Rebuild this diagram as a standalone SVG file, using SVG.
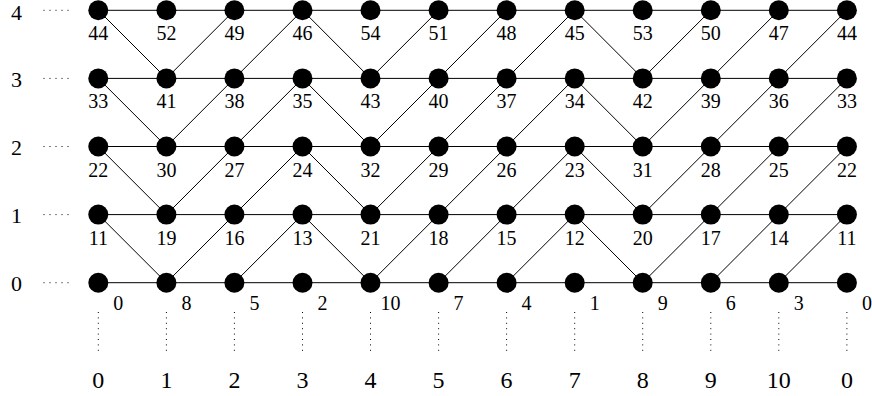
<svg xmlns="http://www.w3.org/2000/svg" width="872" height="396" viewBox="0 0 872 396">
<style>
.bg{fill:#fff}
.e{stroke:#000;stroke-width:1;fill:none}
.dot{stroke:#000;stroke-width:1;fill:none;stroke-dasharray:1 5}
.vdot{stroke:#000;stroke-width:1;fill:none;stroke-dasharray:1 4.4}
circle{fill:#000}
text{font-family:"Liberation Serif","DejaVu Serif",serif;fill:#000;text-anchor:middle}
.nl{font-size:20px}
.bl{font-size:24px}
.rl{font-size:22px}
</style>
<rect class="bg" x="0" y="0" width="872" height="396"/>
<g id="guides">
<line class="dot" x1="43.5" y1="10.3" x2="70" y2="10.3"/>
<line class="dot" x1="43.5" y1="78.4" x2="70" y2="78.4"/>
<line class="dot" x1="43.5" y1="146.5" x2="70" y2="146.5"/>
<line class="dot" x1="43.5" y1="214.6" x2="70" y2="214.6"/>
<line class="dot" x1="43.5" y1="282.7" x2="70" y2="282.7"/>
<line class="vdot" x1="98.3" y1="312" x2="98.3" y2="351"/>
<line class="vdot" x1="166.4" y1="312" x2="166.4" y2="351"/>
<line class="vdot" x1="234.4" y1="312" x2="234.4" y2="351"/>
<line class="vdot" x1="302.5" y1="312" x2="302.5" y2="351"/>
<line class="vdot" x1="370.5" y1="312" x2="370.5" y2="351"/>
<line class="vdot" x1="438.6" y1="312" x2="438.6" y2="351"/>
<line class="vdot" x1="506.6" y1="312" x2="506.6" y2="351"/>
<line class="vdot" x1="574.7" y1="312" x2="574.7" y2="351"/>
<line class="vdot" x1="642.7" y1="312" x2="642.7" y2="351"/>
<line class="vdot" x1="710.8" y1="312" x2="710.8" y2="351"/>
<line class="vdot" x1="778.8" y1="312" x2="778.8" y2="351"/>
<line class="vdot" x1="846.9" y1="312" x2="846.9" y2="351"/>
</g>
<g id="row-labels" class="rl">
<text x="16.5" y="20">4</text>
<text x="16.5" y="86.5">3</text>
<text x="16.5" y="154.6">2</text>
<text x="16.5" y="222.7">1</text>
<text x="16.5" y="290.8">0</text>
</g>
<g id="col-labels" class="bl">
<text x="98.3" y="388">0</text>
<text x="166.4" y="388">1</text>
<text x="234.4" y="388">2</text>
<text x="302.5" y="388">3</text>
<text x="370.5" y="388">4</text>
<text x="438.6" y="388">5</text>
<text x="506.6" y="388">6</text>
<text x="574.7" y="388">7</text>
<text x="642.7" y="388">8</text>
<text x="710.8" y="388">9</text>
<text x="778.8" y="388">10</text>
<text x="846.9" y="388">0</text>
</g>
<g id="connectors" class="e">
<path d="M98.3 10.3H846.9M98.3 78.4H846.9M98.3 146.5H846.9M98.3 214.6H846.9M98.3 282.7H846.9"/>
<path d="M98.3 10.3L166.4 78.4M98.3 78.4L166.4 146.5M98.3 146.5L166.4 214.6M98.3 214.6L166.4 282.7"/>
<path d="M302.5 10.3L370.5 78.4M302.5 78.4L370.5 146.5M302.5 146.5L370.5 214.6M302.5 214.6L370.5 282.7"/>
<path d="M574.7 10.3L642.7 78.4M574.7 78.4L642.7 146.5M574.7 146.5L642.7 214.6M574.7 214.6L642.7 282.7"/>
<path d="M166.4 282.7L234.4 214.6M166.4 214.6L234.4 146.5M166.4 146.5L234.4 78.4M166.4 78.4L234.4 10.3"/>
<path d="M234.4 282.7L302.5 214.6M234.4 214.6L302.5 146.5M234.4 146.5L302.5 78.4M234.4 78.4L302.5 10.3"/>
<path d="M370.5 282.7L438.6 214.6M370.5 214.6L438.6 146.5M370.5 146.5L438.6 78.4M370.5 78.4L438.6 10.3"/>
<path d="M438.6 282.7L506.6 214.6M438.6 214.6L506.6 146.5M438.6 146.5L506.6 78.4M438.6 78.4L506.6 10.3"/>
<path d="M506.6 282.7L574.7 214.6M506.6 214.6L574.7 146.5M506.6 146.5L574.7 78.4M506.6 78.4L574.7 10.3"/>
<path d="M642.7 282.7L710.8 214.6M642.7 214.6L710.8 146.5M642.7 146.5L710.8 78.4M642.7 78.4L710.8 10.3"/>
<path d="M710.8 282.7L778.8 214.6M710.8 214.6L778.8 146.5M710.8 146.5L778.8 78.4M710.8 78.4L778.8 10.3"/>
<path d="M778.8 282.7L846.9 214.6M778.8 214.6L846.9 146.5M778.8 146.5L846.9 78.4M778.8 78.4L846.9 10.3"/>
</g>
<g id="nodes" class="nl">
<g id="n4-0"><circle cx="98.3" cy="10.3" r="10"/><text x="98.3" y="40.3">44</text></g>
<g id="n4-1"><circle cx="166.4" cy="10.3" r="10"/><text x="166.4" y="40.3">52</text></g>
<g id="n4-2"><circle cx="234.4" cy="10.3" r="10"/><text x="234.4" y="40.3">49</text></g>
<g id="n4-3"><circle cx="302.5" cy="10.3" r="10"/><text x="302.5" y="40.3">46</text></g>
<g id="n4-4"><circle cx="370.5" cy="10.3" r="10"/><text x="370.5" y="40.3">54</text></g>
<g id="n4-5"><circle cx="438.6" cy="10.3" r="10"/><text x="438.6" y="40.3">51</text></g>
<g id="n4-6"><circle cx="506.6" cy="10.3" r="10"/><text x="506.6" y="40.3">48</text></g>
<g id="n4-7"><circle cx="574.7" cy="10.3" r="10"/><text x="574.7" y="40.3">45</text></g>
<g id="n4-8"><circle cx="642.7" cy="10.3" r="10"/><text x="642.7" y="40.3">53</text></g>
<g id="n4-9"><circle cx="710.8" cy="10.3" r="10"/><text x="710.8" y="40.3">50</text></g>
<g id="n4-10"><circle cx="778.8" cy="10.3" r="10"/><text x="778.8" y="40.3">47</text></g>
<g id="n4-11"><circle cx="846.9" cy="10.3" r="10"/><text x="846.9" y="40.3">44</text></g>
<g id="n3-0"><circle cx="98.3" cy="78.4" r="10"/><text x="98.3" y="108.4">33</text></g>
<g id="n3-1"><circle cx="166.4" cy="78.4" r="10"/><text x="166.4" y="108.4">41</text></g>
<g id="n3-2"><circle cx="234.4" cy="78.4" r="10"/><text x="234.4" y="108.4">38</text></g>
<g id="n3-3"><circle cx="302.5" cy="78.4" r="10"/><text x="302.5" y="108.4">35</text></g>
<g id="n3-4"><circle cx="370.5" cy="78.4" r="10"/><text x="370.5" y="108.4">43</text></g>
<g id="n3-5"><circle cx="438.6" cy="78.4" r="10"/><text x="438.6" y="108.4">40</text></g>
<g id="n3-6"><circle cx="506.6" cy="78.4" r="10"/><text x="506.6" y="108.4">37</text></g>
<g id="n3-7"><circle cx="574.7" cy="78.4" r="10"/><text x="574.7" y="108.4">34</text></g>
<g id="n3-8"><circle cx="642.7" cy="78.4" r="10"/><text x="642.7" y="108.4">42</text></g>
<g id="n3-9"><circle cx="710.8" cy="78.4" r="10"/><text x="710.8" y="108.4">39</text></g>
<g id="n3-10"><circle cx="778.8" cy="78.4" r="10"/><text x="778.8" y="108.4">36</text></g>
<g id="n3-11"><circle cx="846.9" cy="78.4" r="10"/><text x="846.9" y="108.4">33</text></g>
<g id="n2-0"><circle cx="98.3" cy="146.5" r="10"/><text x="98.3" y="176.5">22</text></g>
<g id="n2-1"><circle cx="166.4" cy="146.5" r="10"/><text x="166.4" y="176.5">30</text></g>
<g id="n2-2"><circle cx="234.4" cy="146.5" r="10"/><text x="234.4" y="176.5">27</text></g>
<g id="n2-3"><circle cx="302.5" cy="146.5" r="10"/><text x="302.5" y="176.5">24</text></g>
<g id="n2-4"><circle cx="370.5" cy="146.5" r="10"/><text x="370.5" y="176.5">32</text></g>
<g id="n2-5"><circle cx="438.6" cy="146.5" r="10"/><text x="438.6" y="176.5">29</text></g>
<g id="n2-6"><circle cx="506.6" cy="146.5" r="10"/><text x="506.6" y="176.5">26</text></g>
<g id="n2-7"><circle cx="574.7" cy="146.5" r="10"/><text x="574.7" y="176.5">23</text></g>
<g id="n2-8"><circle cx="642.7" cy="146.5" r="10"/><text x="642.7" y="176.5">31</text></g>
<g id="n2-9"><circle cx="710.8" cy="146.5" r="10"/><text x="710.8" y="176.5">28</text></g>
<g id="n2-10"><circle cx="778.8" cy="146.5" r="10"/><text x="778.8" y="176.5">25</text></g>
<g id="n2-11"><circle cx="846.9" cy="146.5" r="10"/><text x="846.9" y="176.5">22</text></g>
<g id="n1-0"><circle cx="98.3" cy="214.6" r="10"/><text x="98.3" y="244.6">11</text></g>
<g id="n1-1"><circle cx="166.4" cy="214.6" r="10"/><text x="166.4" y="244.6">19</text></g>
<g id="n1-2"><circle cx="234.4" cy="214.6" r="10"/><text x="234.4" y="244.6">16</text></g>
<g id="n1-3"><circle cx="302.5" cy="214.6" r="10"/><text x="302.5" y="244.6">13</text></g>
<g id="n1-4"><circle cx="370.5" cy="214.6" r="10"/><text x="370.5" y="244.6">21</text></g>
<g id="n1-5"><circle cx="438.6" cy="214.6" r="10"/><text x="438.6" y="244.6">18</text></g>
<g id="n1-6"><circle cx="506.6" cy="214.6" r="10"/><text x="506.6" y="244.6">15</text></g>
<g id="n1-7"><circle cx="574.7" cy="214.6" r="10"/><text x="574.7" y="244.6">12</text></g>
<g id="n1-8"><circle cx="642.7" cy="214.6" r="10"/><text x="642.7" y="244.6">20</text></g>
<g id="n1-9"><circle cx="710.8" cy="214.6" r="10"/><text x="710.8" y="244.6">17</text></g>
<g id="n1-10"><circle cx="778.8" cy="214.6" r="10"/><text x="778.8" y="244.6">14</text></g>
<g id="n1-11"><circle cx="846.9" cy="214.6" r="10"/><text x="846.9" y="244.6">11</text></g>
<g id="n0-0"><circle cx="98.3" cy="282.7" r="10"/><text x="118.3" y="310.2">0</text></g>
<g id="n0-1"><circle cx="166.4" cy="282.7" r="10"/><text x="186.4" y="310.2">8</text></g>
<g id="n0-2"><circle cx="234.4" cy="282.7" r="10"/><text x="254.4" y="310.2">5</text></g>
<g id="n0-3"><circle cx="302.5" cy="282.7" r="10"/><text x="322.5" y="310.2">2</text></g>
<g id="n0-4"><circle cx="370.5" cy="282.7" r="10"/><text x="390.5" y="310.2">10</text></g>
<g id="n0-5"><circle cx="438.6" cy="282.7" r="10"/><text x="458.6" y="310.2">7</text></g>
<g id="n0-6"><circle cx="506.6" cy="282.7" r="10"/><text x="526.6" y="310.2">4</text></g>
<g id="n0-7"><circle cx="574.7" cy="282.7" r="10"/><text x="594.7" y="310.2">1</text></g>
<g id="n0-8"><circle cx="642.7" cy="282.7" r="10"/><text x="662.7" y="310.2">9</text></g>
<g id="n0-9"><circle cx="710.8" cy="282.7" r="10"/><text x="730.8" y="310.2">6</text></g>
<g id="n0-10"><circle cx="778.8" cy="282.7" r="10"/><text x="798.8" y="310.2">3</text></g>
<g id="n0-11"><circle cx="846.9" cy="282.7" r="10"/><text x="866.9" y="310.2">0</text></g>
</g>
</svg>
